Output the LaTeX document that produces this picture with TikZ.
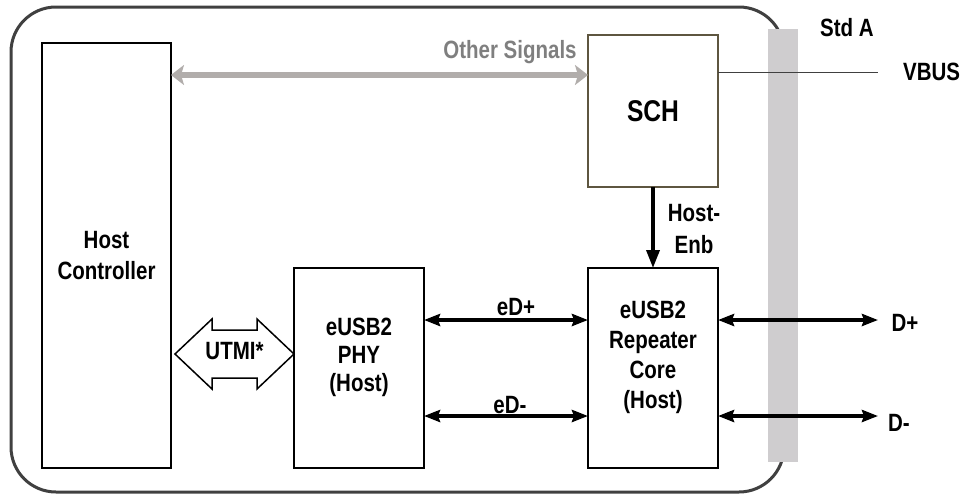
\documentclass[tikz,border=0pt]{standalone}
\usepackage{fontspec}
\setmainfont{Liberation Sans}[FakeStretch=0.82]
\usepackage{tikz}
\usetikzlibrary{arrows.meta,positioning,calc}
\definecolor{frame}{RGB}{64,64,64}
\definecolor{bar}{RGB}{207,205,207}
\definecolor{sigline}{RGB}{177,173,171}
\definecolor{sigtext}{RGB}{127,127,127}
\definecolor{olive}{RGB}{94,86,64}

\begin{document}
\begin{tikzpicture}[x=1pt,y=-1pt,
  font=\fontsize{25}{30}\selectfont\bfseries,
  block/.style={rectangle,draw,line width=1.5pt,outer sep=0pt,inner sep=0pt,minimum width=130pt,minimum height=200pt},
  txt/.style={inner sep=0pt,align=center},
  sig/.style={{Stealth[length=13pt,width=20pt,inset=3pt]}-{Stealth[length=13pt,width=20pt,inset=3pt]},line width=6pt,draw=sigline},
  bus/.style={{Stealth[length=16pt,width=12pt,inset=2pt]}-{Stealth[length=16pt,width=12pt,inset=2pt]},line width=3.5pt},
  enb/.style={-{Triangle[length=18pt,width=13pt]},line width=3.5pt}
]
\useasboundingbox (0,0) rectangle (964,496);
% enclosure and connector bar
\draw[frame,line width=3pt,rounded corners=45pt] (11,7) rectangle (784,492);
\fill[bar] (768,29) rectangle (798,462);

% blocks
\node[block,minimum width=129pt,minimum height=425pt] (hc) at (106.5,255.5) {};
\node[txt,font=\fontsize{25}{31}\selectfont\bfseries] at (106.5,256) {Host\\Controller};
\node[block,draw=olive,minimum height=152pt] (sch) at (653,111) {};
\node[txt,font=\fontsize{30}{32}\selectfont\bfseries] at (sch) {SCH};
\node[block] (phy) at (359,368) {};
\node[txt,font=\fontsize{25}{28}\selectfont\bfseries] at (359,357.5) {eUSB2\\PHY\\(Host)};
\node[block] (rep) at (653,368) {};
\node[txt] at (653,357) {eUSB2\\Repeater\\Core\\(Host)};

% UTMI fat arrow
\draw[line width=1.5pt,fill=white] (175,354) -- (212,319) -- (212,330) -- (257,330) -- (257,319)
  -- (294,354) -- (257,389) -- (257,378) -- (212,378) -- (212,389) -- cycle;
\node[txt] (utmi) at (234.5,351) {UTMI*};

% other signals
\coordinate (sigend) at (sch.west |- 0,75);
\draw[sig] (hc.east |- sigend) -- (sigend);
\node[txt,text=sigtext] (sigtxt) at (510,52.5) {Other Signals};

% VBUS
\coordinate (vbusend) at (878,72);
\draw[frame,line width=1pt] (sch.east |- vbusend) -- (vbusend);
\node[txt,right=25pt of vbusend] (vbus) {VBUS};
\node[txt] (stda) at (847,28) {Std A};

% host enable
\draw[enb] (sch) -- (rep);
\node[txt,font=\fontsize{25}{32}\selectfont\bfseries] (enbtxt) at (694,229) {Host-\\Enb};

% eUSB2 lanes
\coordinate (edp) at (0,320);
\coordinate (edm) at (0,416);
\draw[bus] (phy.east |- edp) -- (rep.west |- edp);
\draw[bus] (phy.east |- edm) -- (rep.west |- edm);
\node[txt] (edptxt) at (516,307.5) {eD+};
\node[txt] (edmtxt) at (510,405.5) {eD-};

% USB lanes
\coordinate (dp) at (878,320);
\coordinate (dm) at (878,416);
\draw[bus] (rep.east |- dp) -- (dp);
\draw[bus] (rep.east |- dm) -- (dm);
\node[txt] (dptxt) at (905,323) {D+};
\node[txt] (dmtxt) at (899,423) {D-};
\end{tikzpicture}
\end{document}
